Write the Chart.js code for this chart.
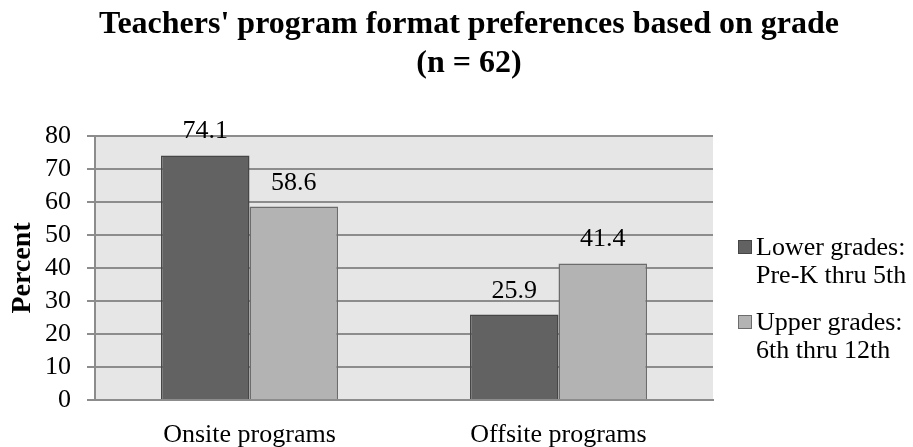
<!DOCTYPE html>
<html>
<head>
<meta charset="utf-8">
<title>Teachers' program format preferences based on grade</title>
<script src="https://cdn.jsdelivr.net/npm/chart.js@4/dist/chart.umd.min.js"></script>
<style>
  html, body { margin: 0; padding: 0; background: #ffffff; }
  #wrap { width: 913px; height: 447px; }
</style>
</head>
<body>
<div id="wrap"><canvas id="chart" width="913" height="447"></canvas></div>
<script>
// Chart data
const categories = ['Onsite programs', 'Offsite programs'];
const lowerGrades = [74.1, 25.9];
const upperGrades = [58.6, 41.4];
const seriesNames = [['Lower grades:', 'Pre-K thru 5th'], ['Upper grades:', '6th thru 12th']];
const titleLines = ["Teachers' program format preferences based on grade", '(n = 62)'];
const yTicks = [0, 10, 20, 30, 40, 50, 60, 70, 80];

const FONT = '"Liberation Serif", "Times New Roman", serif';
const DARK = '#626262';
const LIGHT = '#b3b3b3';

// Grey plot area behind the bars
const plotBackground = {
  id: 'plotBackground',
  beforeDraw(chart) {
    const { ctx, chartArea: a } = chart;
    ctx.save();
    ctx.fillStyle = '#e6e6e6';
    ctx.fillRect(a.left, a.top, a.right - a.left, a.bottom - a.top);
    ctx.restore();
  }
};

// Two-line bold heading
const heading = {
  id: 'heading',
  afterDraw(chart) {
    const ctx = chart.ctx;
    ctx.save();
    ctx.fillStyle = '#000';
    ctx.font = 'bold 32px ' + FONT;
    ctx.textAlign = 'center';
    ctx.textBaseline = 'alphabetic';
    ctx.fillText(titleLines[0], 469, 33);
    ctx.fillText(titleLines[1], 469, 72);
    ctx.restore();
  }
};

// Value printed above each bar
const valueLabels = {
  id: 'valueLabels',
  afterDatasetsDraw(chart) {
    const ctx = chart.ctx;
    ctx.save();
    ctx.fillStyle = '#000';
    ctx.font = '26px ' + FONT;
    ctx.textAlign = 'center';
    ctx.textBaseline = 'alphabetic';
    chart.data.datasets.forEach((ds, i) => {
      chart.getDatasetMeta(i).data.forEach((bar, j) => {
        ctx.fillText(ds.data[j].toFixed(1), bar.x, bar.y - 17);
      });
    });
    ctx.restore();
  }
};

// Legend on the right with wrapped series names
const sideLegend = {
  id: 'sideLegend',
  afterDraw(chart) {
    const ctx = chart.ctx;
    ctx.save();
    ctx.font = '26px ' + FONT;
    ctx.textAlign = 'left';
    ctx.textBaseline = 'alphabetic';
    const baselines = [255, 330];
    chart.data.datasets.forEach((ds, i) => {
      const b = baselines[i];
      ctx.fillStyle = ds.backgroundColor;
      ctx.strokeStyle = ds.borderColor;
      ctx.lineWidth = 1;
      ctx.fillRect(738, b - 15, 14, 14);
      ctx.strokeRect(738.5, b - 14.5, 13, 13);
      ctx.fillStyle = '#000';
      seriesNames[i].forEach((line, k) => ctx.fillText(line, 756, b + k * 28));
    });
    ctx.restore();
  }
};

new Chart(document.getElementById('chart'), {
  type: 'bar',
  data: {
    labels: categories,
    datasets: [
      { label: seriesNames[0].join(' '), data: lowerGrades, backgroundColor: DARK, borderColor: '#464646', borderWidth: 1.5 },
      { label: seriesNames[1].join(' '), data: upperGrades, backgroundColor: LIGHT, borderColor: '#6c6c6c', borderWidth: 1.5 }
    ]
  },
  options: {
    responsive: false,
    animation: false,
    devicePixelRatio: 1,
    layout: { padding: { left: 0, right: 200, top: 136, bottom: 0 } },
    datasets: { bar: { categoryPercentage: 0.573, barPercentage: 1.0 } },
    plugins: {
      legend: { display: false },
      title: { display: false },
      tooltip: { enabled: false }
    },
    scales: {
      x: {
        grid: { display: false },
        border: { display: true, color: '#8c8c8c', width: 2 },
        ticks: { color: '#000', font: { family: FONT, size: 26 }, padding: 12 },
        afterFit(scale) { scale.height = 47; }
      },
      y: {
        min: 0,
        max: 80,
        afterBuildTicks(scale) { scale.ticks = yTicks.map(v => ({ value: v })); },
        grid: { color: '#8c8c8c', lineWidth: 2, tickLength: 8 },
        border: { display: true, color: '#8c8c8c', width: 2 },
        ticks: { color: '#000', font: { family: FONT, size: 26 }, padding: 16, autoSkip: false },
        title: {
          display: true,
          text: 'Percent',
          color: '#000',
          font: { family: FONT, size: 28, weight: 'bold' },
          padding: { top: 6, bottom: 0 }
        },
        afterFit(scale) { scale.width = 95; }
      }
    }
  },
  plugins: [plotBackground, valueLabels, sideLegend, heading]
});
</script>
</body>
</html>
